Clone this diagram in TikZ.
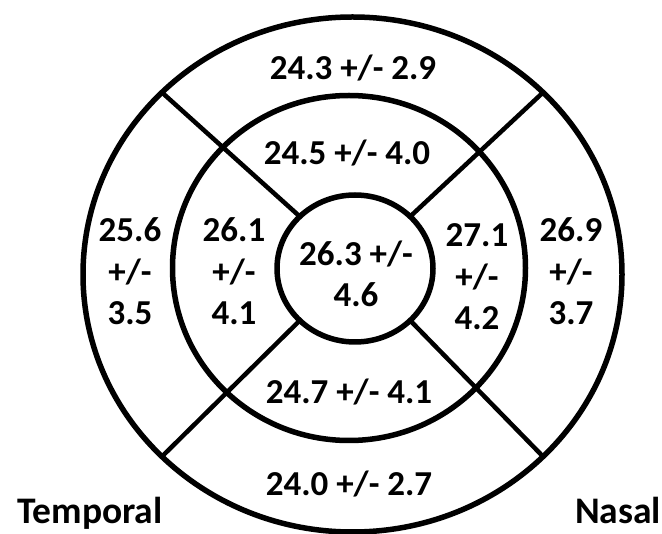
\documentclass[tikz,border=0pt]{standalone}
\usepackage{fontspec}
\setmainfont{Carlito}
\usetikzlibrary{shapes.geometric}

\tikzset{
  ring/.style={ellipse, draw=black, line width=5.5pt, inner sep=0pt, outer sep=0pt},
  divider/.style={draw=black, line width=4.5pt},
  val/.style={font=\fontsize{35}{41.5}\selectfont\bfseries, align=center, anchor=base, inner sep=0pt},
  side/.style={font=\fontsize{37.5}{44}\selectfont\bfseries, anchor=base, inner sep=0pt}
}

\begin{document}
\begin{tikzpicture}[x=1pt, y=-1pt]
  \useasboundingbox (0,0) rectangle (662,534);
  \fill[white] (0,0) rectangle (662,534);

  % three rings of the grid
  \node[ring, minimum width=539pt, minimum height=515pt] (outer) at (352.5,274.5) {};
  \node[ring, minimum width=353pt, minimum height=345pt] (middle) at (349,268) {};
  \node[ring, minimum width=156pt, minimum height=147pt] (inner) at (355,268.5) {};

  % ends of the four radial dividers
  \coordinate (iNE) at (410.2,216.5);
  \coordinate (iNW) at (299.8,216.5);
  \coordinate (iSW) at (299.8,320.5);
  \coordinate (iSE) at (410.2,320.5);
  \coordinate (oNE) at (543.1,92.4);
  \coordinate (oNW) at (161.9,92.4);
  \coordinate (oSW) at (161.9,456.6);
  \coordinate (oSE) at (543.1,456.6);

  \draw[divider] (iNE) -- (oNE);
  \draw[divider] (iNW) -- (oNW);
  \draw[divider] (iSW) -- (oSW);
  \draw[divider] (iSE) -- (oSE);

  % sector values (multi-line nodes sit on the baseline of their last line)
  \node[val] (supOut) at (353,80)  {24.3 +/- 2.9};
  \node[val] (supIn)  at (347,165) {24.5 +/- 4.0};
  \node[val] (infIn)  at (349,404) {24.7 +/- 4.1};
  \node[val] (infOut) at (349,496) {24.0 +/- 2.7};
  \node[val] (centre) at (356,307) {26.3 +/-\\4.6};
  \node[val] (tmpOut) at (130,325) {25.6\\+/-\\3.5};
  \node[val] (tmpIn)  at (234,325) {26.1\\+/-\\4.1};
  \node[val] (nasIn)  at (477,330) {27.1\\+/-\\4.2};
  \node[val] (nasOut) at (571,325) {26.9\\+/-\\3.7};

  % side labels
  \node[side] (temporal) at (90,524) {Temporal};
  \node[side] (nasal) at (618,524) {Nasal};
\end{tikzpicture}
\end{document}
